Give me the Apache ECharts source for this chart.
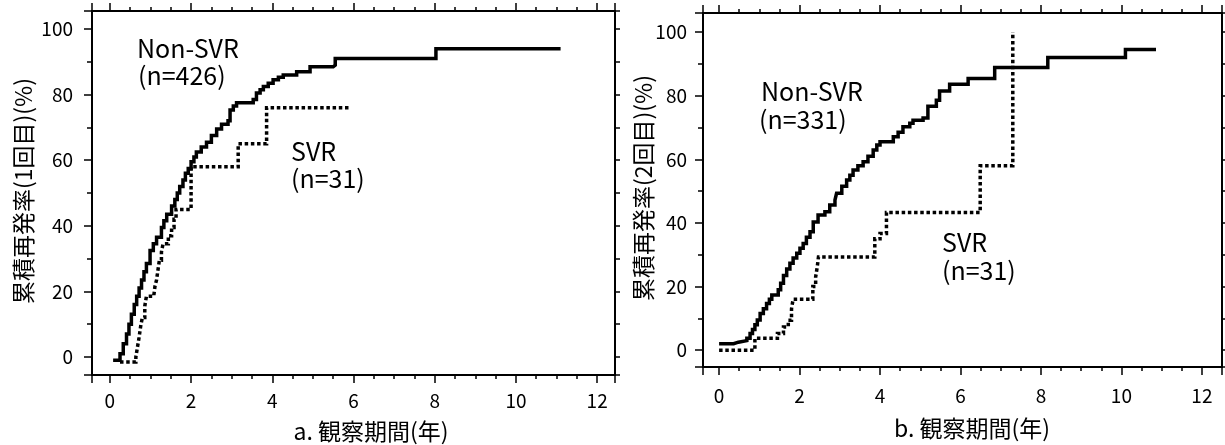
<!DOCTYPE html>
<html><head><meta charset="utf-8">
<script src="https://cdn.jsdelivr.net/npm/echarts@6/dist/echarts.min.js"></script>
<style>html,body{margin:0;padding:0;background:#fff}#c{width:1225px;height:445px}</style>
</head><body><div id="c"></div>
<script>
// ---- data (years, cumulative recurrence %) ----
const xTickLabels = [0, 2, 4, 6, 8, 10, 12];
const yTickLabels = [0, 20, 40, 60, 80, 100];

const nonSvrA = [
  [0.08,-1],[0.25,1],[0.33,4],[0.41,7],[0.47,10],[0.53,13],[0.6,16],[0.66,18.5],[0.72,21],
  [0.78,23.5],[0.84,26],[0.9,28.5],[0.99,32.5],[1.07,34.5],[1.15,36.5],[1.27,39.5],[1.33,41.5],
  [1.4,43.5],[1.52,46],[1.6,48],[1.66,50],[1.72,52],[1.8,54],[1.86,56],[1.93,57.5],[2.0,59.5],
  [2.07,61],[2.13,62.5],[2.25,64],[2.38,65.5],[2.5,67.5],[2.63,69.5],[2.75,71],[2.91,72],
  [2.96,75.3],[3.04,76.5],[3.12,77.5],[3.53,78.5],[3.61,80.5],[3.7,81.5],[3.78,82.5],[3.9,83.5],
  [4.02,84.5],[4.15,85.3],[4.27,86],[4.6,87],[4.93,88.5],[5.5,89],[5.55,91],[8.03,94],[11.1,94]
];
const svrA = [
  [0.25,-1.5],[0.64,0],[0.68,3],[0.72,6],[0.76,9.5],[0.8,12],[0.86,15.5],[0.9,18.5],[1.08,19],
  [1.11,21.5],[1.15,23.5],[1.19,27],[1.22,29.5],[1.27,32],[1.31,34.5],[1.44,37],[1.52,39.5],
  [1.58,42],[1.63,45],[2.0,58],[3.16,65],[3.86,76],[5.91,76]
];
const nonSvrB = [
  [0,2],[0.36,2.5],[0.48,3],[0.69,3.7],[0.77,5.2],[0.83,6.5],[0.89,8],[0.95,9.5],[1.02,11.5],
  [1.1,13],[1.18,14.7],[1.25,16],[1.31,17.3],[1.47,19],[1.53,21],[1.6,23.5],[1.68,25.5],
  [1.76,27.3],[1.84,29],[1.93,30.5],[2.01,32],[2.09,33.5],[2.17,35.5],[2.26,37.2],[2.34,40.3],
  [2.46,42.5],[2.63,43.5],[2.75,45.6],[2.88,47.2],[2.92,49.3],[3.05,51.5],[3.17,53.5],[3.25,55],
  [3.33,56.6],[3.45,58],[3.58,59.2],[3.7,61],[3.83,62.9],[3.92,64.5],[4.0,65.5],[4.33,67.1],
  [4.45,68.5],[4.57,70.2],[4.74,71.3],[4.82,72.3],[5.07,73],[5.19,76.7],[5.4,78.6],[5.48,81.5],
  [5.73,83.6],[6.19,85.4],[6.85,88.9],[8.17,92],[10.1,94.5],[10.86,94.5]
];
const svrB = [
  [0,0],[0.89,3.7],[1.45,5.2],[1.6,7.3],[1.72,9.4],[1.8,13],[1.84,16],[2.33,20],[2.4,23],
  [2.44,26.2],[2.47,29.3],[3.87,35],[4.0,36.7],[4.16,43.3],[6.49,58],[7.3,100]
];

const labelsA = { non: 'Non-SVR', nonN: '(n=426)', svr: 'SVR', svrN: '(n=31)' };
const labelsB = { non: 'Non-SVR', nonN: '(n=331)', svr: 'SVR', svrN: '(n=31)' };
const xNameA = 'a. 観察期間(年)';
const xNameB = 'b. 観察期間(年)';
const yNameA = '累積再発率(1回目)(%)';
const yNameB = '累積再発率(2回目)(%)';

// ---- styling ----
const FONT = '"Noto Sans CJK JP", "Noto Sans", sans-serif';
const BLACK = '#000';

function xAxes(gi, min, max, margin) {
  const base = {
    type: 'value', gridIndex: gi, min: min, max: max, splitNumber: 6, minInterval: 2, maxInterval: 2,
    axisLine: { show: true, onZero: false, lineStyle: { color: BLACK, width: 2 } },
    axisTick: { show: true, inside: false, length: 8, lineStyle: { color: BLACK, width: 1.5 } },
    minorTick: { show: true, splitNumber: 4, length: 4, lineStyle: { color: BLACK, width: 1.5 } },
    splitLine: { show: false }, minorSplitLine: { show: false }
  };
  return [
    Object.assign({}, base, { position: 'bottom',
      axisLabel: { show: true, margin: margin, fontSize: 19, fontFamily: FONT, color: BLACK,
        formatter: v => xTickLabels.includes(v) ? String(v) : '' } }),
    Object.assign({}, base, { position: 'top', axisLabel: { show: false } })
  ];
}
function yAxes(gi, min, max, margin) {
  return [
    { type: 'value', gridIndex: gi, position: 'left', min: min, max: max, splitNumber: 6,
      minInterval: 20, maxInterval: 20,
      axisLine: { show: true, onZero: false, lineStyle: { color: BLACK, width: 2 } },
      axisTick: { show: true, inside: false, length: 8, lineStyle: { color: BLACK, width: 1.5 } },
      minorTick: { show: true, splitNumber: 2, length: 5, lineStyle: { color: BLACK, width: 1.5 } },
      splitLine: { show: false }, minorSplitLine: { show: false },
      axisLabel: { show: true, margin: margin, fontSize: 19, fontFamily: FONT, color: BLACK,
        formatter: v => yTickLabels.includes(v) ? String(v) : '' } },
    { type: 'value', gridIndex: gi, position: 'right', min: min, max: max, splitNumber: 12,
      minInterval: 10, maxInterval: 10,
      axisLine: { show: true, onZero: false, lineStyle: { color: BLACK, width: 2 } },
      axisTick: { show: true, inside: false, length: 5, lineStyle: { color: BLACK, width: 1.5 } },
      splitLine: { show: false }, axisLabel: { show: false } }
  ];
}
function line(xi, yi, data, dotted) {
  return { type: 'line', xAxisIndex: xi, yAxisIndex: yi, data: data, step: 'end',
    showSymbol: false, symbol: 'none', silent: true, animation: false, z: 3,
    lineStyle: { color: BLACK, width: 3.5, type: dotted ? [3.5, 2.7] : 'solid', cap: 'butt', join: 'miter' } };
}
function txt(x, y, text, size) {
  return { type: 'text', x: x, y: y, silent: true,
    style: { text: text, fontSize: size, fontFamily: FONT, fill: BLACK,
      align: 'left', verticalAlign: 'middle', textAlign: 'left', textVerticalAlign: 'middle' } };
}
function ctxt(x, y, text, size, rot) {
  return { type: 'text', x: x, y: y, rotation: rot || 0, silent: true,
    style: { text: text, fontSize: size, fontFamily: FONT, fill: BLACK,
      align: 'center', verticalAlign: 'middle', textAlign: 'center', textVerticalAlign: 'middle' } };
}

const chart = echarts.init(document.getElementById('c'), null, { renderer: 'canvas' });
chart.setOption({
  backgroundColor: '#fff',
  animation: false,
  grid: [
    { left: 92, top: 11, width: 523, height: 364, containLabel: false },
    { left: 703, top: 13, width: 520, height: 354, containLabel: false }
  ],
  xAxis: [].concat(xAxes(0, -0.44, 12.44, 16), xAxes(1, -0.4, 12.5, 19)),
  yAxis: [].concat(yAxes(0, -5.5, 105.5, 19), yAxes(1, -5.3, 106, 16)),
  series: [
    line(0, 0, nonSvrA, false), line(0, 0, svrA, true),
    line(2, 2, nonSvrB, false), line(2, 2, svrB, true)
  ],
  graphic: [
    txt(137, 48, labelsA.non, 25), txt(138, 75, labelsA.nonN, 25),
    txt(291, 151, labelsA.svr, 25), txt(291, 178, labelsA.svrN, 25),
    txt(761, 91, labelsB.non, 25), txt(759, 119, labelsB.nonN, 25),
    txt(942, 242, labelsB.svr, 25), txt(942, 270, labelsB.svrN, 25),
    ctxt(371, 431, xNameA, 23), ctxt(972, 428, xNameB, 23),
    ctxt(23, 191, yNameA, 23, Math.PI / 2), ctxt(643, 188, yNameB, 23, Math.PI / 2)
  ]
});
</script></body></html>
